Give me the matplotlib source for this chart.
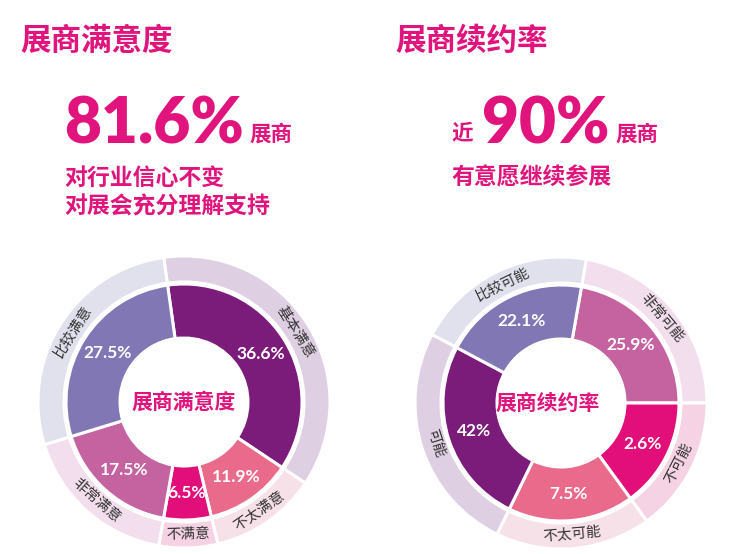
import numpy as np
import matplotlib
matplotlib.use("Agg")
import matplotlib.pyplot as plt

plt.rcParams['font.family'] = ['Noto Sans CJK SC', 'DejaVu Sans']

# ---------------- data ----------------
sat_labels = ["基本满意", "不太满意", "不满意", "非常满意", "比较满意"]
sat_values = [36.6, 11.9, 6.5, 17.5, 27.5]
sat_texts = ["36.6%", "11.9%", "6.5%", "17.5%", "27.5%"]

ren_labels = ["非常可能", "不可能", "不太可能", "可能", "比较可能"]
ren_values = [25.9, 2.6, 7.5, 42, 22.1]
ren_texts = ["25.9%", "2.6%", "7.5%", "42%", "22.1%"]
# slice sizes (degrees) as actually drawn in the reference graphic
ren_slice_deg = [80, 54, 62, 92, 72]

sat_headline = "81.6%"
ren_headline = "90%"

# ---------------- style ----------------
MAG = "#E0147C"
DARK = {"purple": "#7B1B7A", "lav": "#8077B4", "mauve": "#C463A0",
        "magenta": "#E20E7A", "pink": "#EA6A8C"}
LIGHT = {"purple": "#DFCFE2", "lav": "#E1E1EE", "mauve": "#F2DEEC",
         "magenta": "#F5D3E4", "pink": "#F7E1E8"}
sat_keys = ["purple", "pink", "magenta", "mauve", "lav"]
ren_keys = ["mauve", "magenta", "pink", "purple", "lav"]

W, H = 740, 554
fig = plt.figure(figsize=(W / 100, H / 100), dpi=100)
ax = fig.add_axes([0, 0, 1, 1])

CJK = ['Noto Sans CJK SC', 'DejaVu Sans']
NUM = ['Lato', 'DejaVu Sans']


def Y(y):
    return H - y


def donut(cx, cy, sizes, start, labels, texts, keys, center_text, ctx):
    R_out, w_out = 146, 26
    R_in, w_in = 118, 54
    wp = dict(edgecolor="white", linewidth=2.2)
    ax.pie(sizes, radius=R_out, center=(cx, Y(cy)), startangle=start,
           counterclock=False, colors=[LIGHT[k] for k in keys],
           wedgeprops=dict(width=w_out, **wp))
    wedges, _ = ax.pie(sizes, radius=R_in, center=(cx, Y(cy)), startangle=start,
                       counterclock=False, colors=[DARK[k] for k in keys],
                       wedgeprops=dict(width=w_in, **wp))
    for w, lab, txt in zip(wedges, labels, texts):
        mid = np.deg2rad((w.theta1 + w.theta2) / 2)
        md = np.rad2deg(mid)
        # percentage
        r = 91
        ax.text(cx + r * np.cos(mid), Y(cy) + r * np.sin(mid), txt,
                ha="center", va="center", color="white", fontsize=12.5,
                fontweight="bold", family=NUM)
        # outer label
        r2 = 132
        rot = md - 90 if np.sin(mid) >= 0 else md + 90
        ax.text(cx + r2 * np.cos(mid), Y(cy) + r2 * np.sin(mid), lab,
                ha="center", va="center", rotation=rot, rotation_mode="anchor",
                color="#333333", fontsize=10.5, family=CJK)
    ax.text(ctx, Y(cy), center_text, ha="center", va="center", color=MAG,
            fontsize=15, fontweight="bold", family=CJK)


donut(184, 402, sat_values, 98, sat_labels, sat_texts, sat_keys, "展商满意度", 184)
donut(561, 403, ren_slice_deg, 80, ren_labels, ren_texts, ren_keys, "展商续约率", 548)

# ---------------- header texts ----------------
ax.text(20, Y(41), "展商满意度", ha="left", va="center", color=MAG,
        fontsize=22, fontweight="bold", family=CJK)
ax.text(395, Y(41), "展商续约率", ha="left", va="center", color=MAG,
        fontsize=22, fontweight="bold", family=CJK)

ax.text(64, Y(143), sat_headline, ha="left", va="baseline", color=MAG,
        fontsize=46, fontweight="heavy", family=NUM)
ax.text(249, Y(134), "展商", ha="left", va="center", color=MAG,
        fontsize=15.5, fontweight="bold", family=CJK)
ax.text(64, Y(178), "对行业信心不变", ha="left", va="center", color=MAG,
        fontsize=16.5, fontweight="bold", family=CJK)
ax.text(64, Y(207), "对展会充分理解支持", ha="left", va="center", color=MAG,
        fontsize=16.5, fontweight="bold", family=CJK)

ax.text(451, Y(134), "近", ha="left", va="center", color=MAG,
        fontsize=15.5, fontweight="bold", family=CJK)
ax.text(482, Y(143), ren_headline, ha="left", va="baseline", color=MAG,
        fontsize=46, fontweight="heavy", family=NUM)
ax.text(616, Y(134), "展商", ha="left", va="center", color=MAG,
        fontsize=15.5, fontweight="bold", family=CJK)
ax.text(451, Y(178), "有意愿继续参展", ha="left", va="center", color=MAG,
        fontsize=16.5, fontweight="bold", family=CJK)

ax.set_xlim(0, W)
ax.set_ylim(0, H)
ax.set_aspect("auto")
ax.axis("off")

fig.savefig("out.png", dpi=100, facecolor="white")
